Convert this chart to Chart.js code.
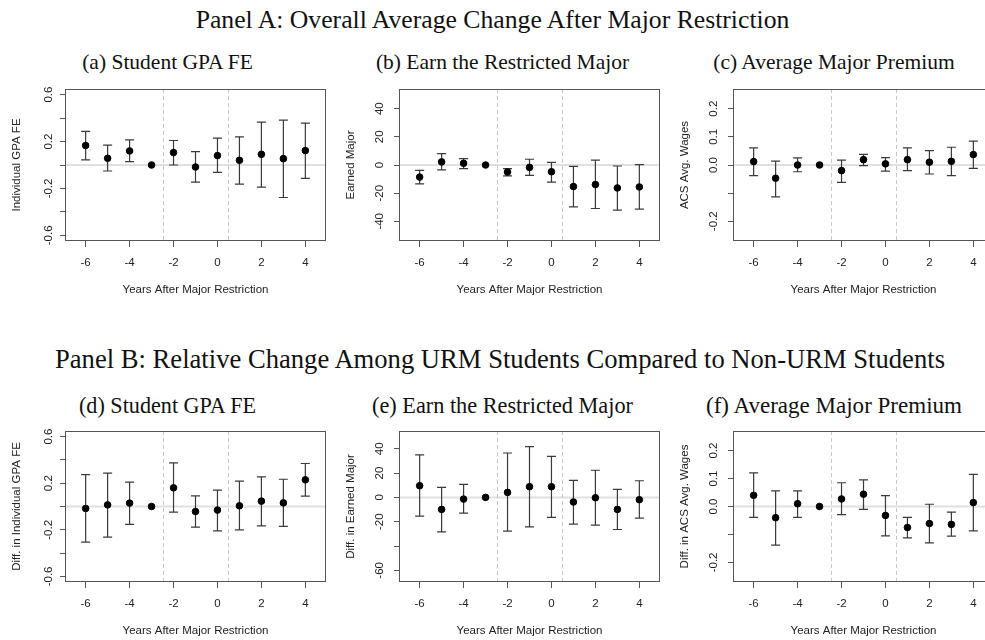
<!DOCTYPE html>
<html>
<head>
<meta charset="utf-8">
<script src="https://cdn.jsdelivr.net/npm/chart.js@4.4.1/dist/chart.umd.min.js"></script>
<style>
  html, body { margin:0; padding:0; background:#fff; width:985px; height:640px; overflow:hidden; position:relative; }
  .t { position:absolute; white-space:nowrap; font-family:"Liberation Serif","Times New Roman",serif; color:#111; line-height:1; transform-origin:0 0; }
  canvas { position:absolute; }
</style>
</head>
<body>
<script>
// event time (years after restriction), -3 is the omitted year
const years = [-6, -5, -4, -3, -2, -1, 0, 1, 2, 3, 4];
const xTicks = [-6, -4, -2, 0, 2, 4];
const cutoffs = [-2.5, 0.5];

// Panel A
const gpaEst = [0.166, 0.057, 0.12, 0, 0.106, -0.017, 0.08, 0.04, 0.091, 0.054, 0.123];
const gpaHi  = [0.286, 0.169, 0.214, 0, 0.209, 0.114, 0.229, 0.24, 0.366, 0.383, 0.357];
const gpaLo  = [0.043, -0.051, 0.029, 0, 0, -0.146, -0.063, -0.163, -0.189, -0.277, -0.114];

const earnEst = [-8.6, 2.2, 1.2, 0, -5.0, -1.7, -4.8, -15.3, -13.9, -16.3, -15.6];
const earnHi  = [-3.8, 8.1, 4.6, 0, -2.6, 4.1, 1.9, -1.0, 3.4, -0.7, 0.2];
const earnLo  = [-13.4, -3.4, -2.6, 0, -7.7, -7.4, -12.2, -29.7, -30.9, -32.1, -31.4];

const premEst = [0.012, -0.047, 0.0, 0, -0.02, 0.019, 0.004, 0.019, 0.01, 0.013, 0.037];
const premHi  = [0.061, 0.014, 0.025, 0, 0.017, 0.038, 0.026, 0.061, 0.051, 0.063, 0.085];
const premLo  = [-0.038, -0.113, -0.024, 0, -0.062, -0.002, -0.022, -0.02, -0.032, -0.038, -0.012];

// Panel B (URM minus non-URM)
const urmGpaEst = [-0.017, 0.014, 0.029, 0, 0.16, -0.043, -0.031, 0.006, 0.046, 0.031, 0.229];
const urmGpaHi  = [0.274, 0.286, 0.209, 0, 0.374, 0.091, 0.14, 0.217, 0.254, 0.234, 0.369];
const urmGpaLo  = [-0.306, -0.263, -0.154, 0, -0.049, -0.177, -0.209, -0.2, -0.166, -0.171, 0.089];

const urmEarnEst = [9.6, -9.9, -1.4, 0, 4.1, 8.8, 8.8, -3.8, -0.3, -9.9, -1.9];
const urmEarnHi  = [34.9, 8.2, 10.7, 0, 36.5, 41.8, 33.8, 14.0, 22.3, 6.6, 13.7];
const urmEarnLo  = [-15.4, -28.3, -12.9, 0, -27.7, -24.2, -16.5, -22.0, -22.8, -26.4, -17.0];

const urmPremEst = [0.04, -0.04, 0.01, 0, 0.027, 0.044, -0.032, -0.075, -0.061, -0.064, 0.014];
const urmPremHi  = [0.12, 0.056, 0.056, 0, 0.085, 0.095, 0.039, -0.039, 0.008, -0.02, 0.115];
const urmPremLo  = [-0.039, -0.138, -0.039, 0, -0.029, -0.01, -0.105, -0.112, -0.13, -0.106, -0.087];

// y tick positions and labels ('' = tick mark only)
const gpaTicks = [-0.6, -0.4, -0.2, 0, 0.2, 0.4, 0.6];
const gpaTickLabels = ['-0.6', '', '-0.2', '', '0.2', '', '0.6'];
const earnTicks = [-40, -20, 0, 20, 40];
const earnTickLabels = ['-40', '-20', '0', '20', '40'];
const premTicks = [-0.2, -0.1, 0, 0.1, 0.2];
const premTickLabels = ['-0.2', '', '0.0', '0.1', '0.2'];
const urmEarnTicks = [-60, -40, -20, 0, 20, 40];
const urmEarnTickLabels = ['-60', '', '-20', '0', '20', '40'];

const AX_FONT = '"Liberation Sans", Arial, sans-serif';
const AX_SIZE = 11.5;
const YW = 65;   // y axis strip width
const PADT = 14; // room above the box for rotated tick labels

const panels = [
  {est:gpaEst, lo:gpaLo, hi:gpaHi, ticks:gpaTicks, labels:gpaTickLabels, ylab:'Individual GPA FE', ymin:-0.648, ymax:0.648, left:65, top:89, h:152, xh:56, labOff:16},
  {est:earnEst, lo:earnLo, hi:earnHi, ticks:earnTicks, labels:earnTickLabels, ylab:'Earned Major', ymin:-54, ymax:54, left:399, top:89, h:152, xh:56, labOff:19.5},
  {est:premEst, lo:premLo, hi:premHi, ticks:premTicks, labels:premTickLabels, ylab:'ACS Avg. Wages', ymin:-0.27, ymax:0.27, left:733, top:89, h:152, xh:56, labOff:19.5},
  {est:urmGpaEst, lo:urmGpaLo, hi:urmGpaHi, ticks:gpaTicks, labels:gpaTickLabels, ylab:'Diff. in Individual GPA FE', ymin:-0.648, ymax:0.648, left:65, top:431, h:151, xh:56, labOff:16},
  {est:urmEarnEst, lo:urmEarnLo, hi:urmEarnHi, ticks:urmEarnTicks, labels:urmEarnTickLabels, ylab:'Diff. in Earned Major', ymin:-69.6, ymax:54.6, left:399, top:431, h:151, xh:56, labOff:19.5},
  {est:urmPremEst, lo:urmPremLo, hi:urmPremHi, ticks:premTicks, labels:premTickLabels, ylab:'Diff. in ACS Avg. Wages', ymin:-0.27, ymax:0.27, left:733, top:431, h:151, xh:56, labOff:19.5}
];

function addText(str, fs, cx, base, targetW){
  const d = document.createElement('div');
  d.className = 't';
  d.textContent = str;
  d.style.fontSize = fs + 'px';
  document.body.appendChild(d);
  const w = d.getBoundingClientRect().width;
  const s = targetW ? targetW / w : 1;
  d.style.transform = 'scaleX(' + s + ')';
  d.style.left = (cx - w * s / 2) + 'px';
  d.style.top = (base - 0.8375 * fs) + 'px';
}

addText('Panel A: Overall Average Change After Major Restriction', 25.7, 492.5, 28.3);
addText('(a) Student GPA FE', 21.5, 167.5, 70);
addText('(b) Earn the Restricted Major', 21.5, 502.5, 70);
addText('(c) Average Major Premium', 21.5, 834, 70);
addText('Panel B: Relative Change Among URM Students Compared to Non-URM Students', 27, 500, 369, 890);
addText('(d) Student GPA FE', 23, 167.5, 413, 177);
addText('(e) Earn the Restricted Major', 23, 502.5, 413, 261);
addText('(f) Average Major Premium', 23, 834, 413, 256);

function makePlugin(p){
  return {
    id: 'eventStudy',
    beforeDatasetsDraw(chart){
      const {ctx, chartArea:a, scales:{x, y}} = chart;
      ctx.save();
      // reference line at zero
      const y0 = y.getPixelForValue(0);
      ctx.strokeStyle = '#e0e0e0'; ctx.lineWidth = 2;
      ctx.beginPath(); ctx.moveTo(a.left, y0); ctx.lineTo(a.right, y0); ctx.stroke();
      // policy cutoffs
      ctx.strokeStyle = '#c6c6c6'; ctx.lineWidth = 1; ctx.setLineDash([4, 3]);
      cutoffs.forEach(c => {
        const px = Math.round(x.getPixelForValue(c)) + 0.5;
        ctx.beginPath(); ctx.moveTo(px, a.top); ctx.lineTo(px, a.bottom); ctx.stroke();
      });
      ctx.setLineDash([]);
      // confidence intervals
      ctx.strokeStyle = '#3a3a3a'; ctx.lineWidth = 1.2;
      years.forEach((yr, i) => {
        if (p.hi[i] - p.lo[i] < 1e-9) return;
        const px = x.getPixelForValue(yr);
        const t = y.getPixelForValue(p.hi[i]), b = y.getPixelForValue(p.lo[i]);
        ctx.beginPath();
        ctx.moveTo(px, t); ctx.lineTo(px, b);
        ctx.moveTo(px - 4.5, t); ctx.lineTo(px + 4.5, t);
        ctx.moveTo(px - 4.5, b); ctx.lineTo(px + 4.5, b);
        ctx.stroke();
      });
      ctx.restore();
    },
    afterDraw(chart){
      const {ctx, chartArea:a, scales:{y}} = chart;
      ctx.save();
      ctx.strokeStyle = '#555'; ctx.lineWidth = 1;
      ctx.strokeRect(Math.round(a.left) + 0.5, Math.round(a.top) + 0.5, Math.round(a.right - a.left) - 1, Math.round(a.bottom - a.top) - 1);
      ctx.fillStyle = '#222';
      ctx.font = AX_SIZE + 'px ' + AX_FONT;
      ctx.textAlign = 'center'; ctx.textBaseline = 'middle';
      p.ticks.forEach((v, i) => {
        if (!p.labels[i]) return;
        ctx.save();
        ctx.translate(a.left - p.labOff, y.getPixelForValue(v));
        ctx.rotate(-Math.PI / 2);
        ctx.fillText(p.labels[i], 0, 0);
        ctx.restore();
      });
      ctx.translate(a.left - 48.5, (a.top + a.bottom) / 2);
      ctx.rotate(-Math.PI / 2);
      ctx.fillText(p.ylab, 0, 0);
      ctx.restore();
    }
  };
}

panels.forEach(p => {
  const cv = document.createElement('canvas');
  cv.width = YW + 261;
  cv.height = PADT + p.h + p.xh;
  cv.style.left = (p.left - YW) + 'px';
  cv.style.top = (p.top - PADT) + 'px';
  document.body.appendChild(cv);

  new Chart(cv.getContext('2d'), {
    type: 'scatter',
    data: {
      datasets: [{
        data: years.map((yr, i) => ({x: yr, y: p.est[i]})),
        backgroundColor: '#000',
        borderColor: '#000',
        pointRadius: 3.3,
        pointHoverRadius: 3.3
      }]
    },
    options: {
      responsive: false,
      animation: false,
      devicePixelRatio: 1,
      layout: { padding: {top: PADT, left: 0, right: 0, bottom: 0}, autoPadding: false },
      plugins: { legend: {display:false}, tooltip: {enabled:false} },
      scales: {
        x: {
          type: 'linear', min: -6.94, max: 4.94,
          afterBuildTicks: s => { s.ticks = xTicks.map(v => ({value: v})); },
          afterFit: s => { s.height = p.xh; },
          border: { display: false },
          grid: { drawOnChartArea: false, drawTicks: true, tickLength: 6, color: '#555' },
          ticks: { autoSkip: false, maxRotation: 0, padding: 9, color: '#222', font: {family: AX_FONT, size: AX_SIZE} },
          title: { display: true, text: 'Years After Major Restriction', color: '#222', padding: 0, font: {family: AX_FONT, size: AX_SIZE} }
        },
        y: {
          type: 'linear', min: p.ymin, max: p.ymax,
          afterBuildTicks: s => { s.ticks = p.ticks.map(v => ({value: v})); },
          afterFit: s => { s.width = YW; },
          border: { display: false },
          grid: { drawOnChartArea: false, drawTicks: true, tickLength: 5, color: '#555' },
          ticks: { display: false }
        }
      }
    },
    plugins: [makePlugin(p)]
  });
});
</script>
</body>
</html>
